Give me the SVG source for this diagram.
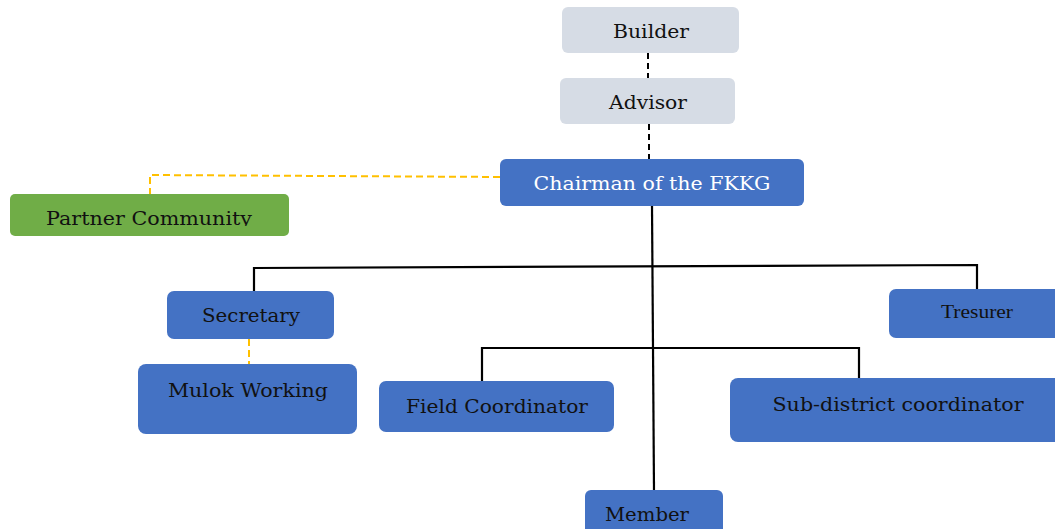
<svg xmlns="http://www.w3.org/2000/svg" width="1055" height="529" viewBox="0 0 1055 529">
  <style>
    .gray { fill: #d6dce5; }
    .blue { fill: #4472c4; }
    .green { fill: #70ad47; }
    .lbl { font-family: "DejaVu Serif", "Liberation Serif", serif; font-size: 19px; fill: #111; text-anchor: middle; }
    .wht { fill: #ffffff; }
    .tms { font-family: "Liberation Serif", serif; font-size: 19px; }
    .solid { stroke: #000; stroke-width: 2.2; fill: none; }
    .dash { stroke: #000; stroke-width: 2; stroke-dasharray: 6 4; fill: none; }
    .ydash { stroke: #ffc000; stroke-width: 2; stroke-dasharray: 7 4; fill: none; }
  </style>
  <defs>
    <clipPath id="pcClip"><rect x="10" y="194" width="279" height="32"/></clipPath>
  </defs>
  <rect width="1055" height="529" fill="#ffffff"/>

  <g id="connectors">
    <line class="dash" x1="648" y1="53" x2="648" y2="78"/>
    <line class="dash" x1="649" y1="124" x2="649" y2="159"/>
    <polyline class="ydash" points="500,177 150,175 150,194"/>
    <line class="ydash" x1="249" y1="339" x2="249" y2="364"/>
    <line class="solid" x1="652" y1="206" x2="654" y2="490"/>
    <polyline class="solid" points="254,291 254,268 977,265 977,289"/>
    <polyline class="solid" points="482,381 482,348 859,348 859,378"/>
  </g>

  <g id="builder">
    <rect class="gray" x="562" y="7" width="177" height="46" rx="6"/>
    <text class="lbl" x="651" y="38" textLength="76" lengthAdjust="spacingAndGlyphs">Builder</text>
  </g>
  <g id="advisor">
    <rect class="gray" x="560" y="78" width="175" height="46" rx="6"/>
    <text class="lbl" x="648" y="109" textLength="78" lengthAdjust="spacingAndGlyphs">Advisor</text>
  </g>
  <g id="chairman">
    <rect class="blue" x="500" y="159" width="304" height="47" rx="6"/>
    <text class="lbl wht" x="652" y="190" textLength="237" lengthAdjust="spacingAndGlyphs">Chairman of the FKKG</text>
  </g>
  <g id="partner-community">
    <rect class="green" x="10" y="194" width="279" height="42" rx="5"/>
    <text class="lbl" x="149" y="225" textLength="206" lengthAdjust="spacingAndGlyphs" clip-path="url(#pcClip)">Partner Community</text>
  </g>
  <g id="secretary">
    <rect class="blue" x="167" y="291" width="167" height="48" rx="7"/>
    <text class="lbl" x="251" y="322" textLength="98" lengthAdjust="spacingAndGlyphs">Secretary</text>
  </g>
  <g id="tresurer">
    <rect class="blue" x="889" y="289" width="175" height="49" rx="7"/>
    <text class="lbl tms" x="977" y="318" textLength="72" lengthAdjust="spacingAndGlyphs">Tresurer</text>
  </g>
  <g id="mulok-working">
    <rect class="blue" x="138" y="364" width="219" height="70" rx="8"/>
    <text class="lbl" x="248" y="397" textLength="160" lengthAdjust="spacingAndGlyphs">Mulok Working</text>
  </g>
  <g id="field-coordinator">
    <rect class="blue" x="379" y="381" width="235" height="51" rx="7"/>
    <text class="lbl" x="497" y="413" textLength="182" lengthAdjust="spacingAndGlyphs">Field Coordinator</text>
  </g>
  <g id="sub-district-coordinator">
    <rect class="blue" x="730" y="378" width="335" height="64" rx="8"/>
    <text class="lbl" x="898" y="411" textLength="251" lengthAdjust="spacingAndGlyphs">Sub-district coordinator</text>
  </g>
  <g id="member">
    <rect class="blue" x="585" y="490" width="138" height="50" rx="6"/>
    <text class="lbl" x="647" y="521" textLength="84" lengthAdjust="spacingAndGlyphs">Member</text>
  </g>
</svg>
